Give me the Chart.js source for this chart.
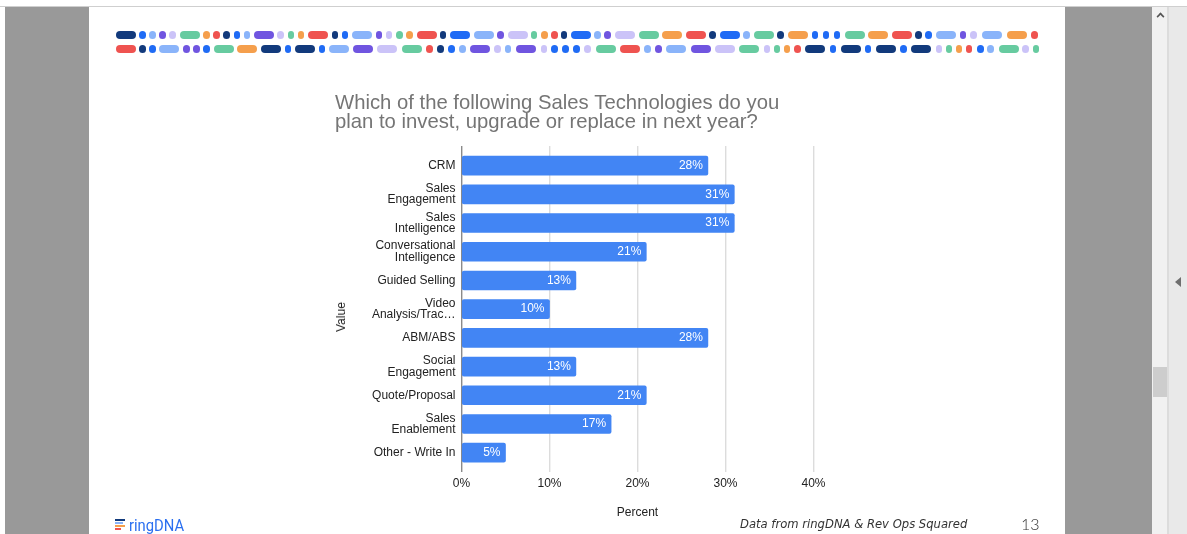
<!DOCTYPE html>
<html>
<head>
<meta charset="utf-8">
<script src="https://cdn.jsdelivr.net/npm/chart.js@4"></script>
<style>
  html, body { margin: 0; padding: 0; background: #fff; }
  #page { position: relative; width: 1187px; height: 534px; overflow: hidden; background: #fff; font-family: "Liberation Sans", Arial, sans-serif; }
  #page > div, #page > canvas { position: absolute; }
  #topline { left: 0; top: 6px; width: 1187px; height: 1px; background: #cfcfcf; }
  .gutter { top: 7px; height: 527px; background: #999; }
  #gl { left: 5px; width: 84px; }
  #gr { left: 1065px; width: 87px; }
  #track { left: 1152px; top: 7px; width: 15px; height: 527px; background: #f1f1f1; }
  #trackedge { left: 1167px; top: 7px; width: 2px; height: 527px; background: #dcdcdc; }
  #side { left: 1169px; top: 7px; width: 18px; height: 527px; background: #e9e9e9; }
  #thumb { left: 1153px; top: 367px; width: 14px; height: 30px; background: #cdcdcd; }
  #up { left: 1157px; top: 13px; width: 5px; height: 5px; border-left: 2px solid #555; border-top: 2px solid #555; transform: rotate(45deg) scale(.8); }
  #collapse { left: 1175px; top: 277px; width: 0; height: 0; border-top: 5px solid transparent; border-bottom: 5px solid transparent; border-right: 6px solid #6f6f6f; }
  .chip { height: 8px; border-radius: 4px; }
  .bar { left: 115px; height: 1.6px; }
  #chart { left: 0; top: 0; }
  #valueTitle { left: 341px; top: 317px; font-size: 12px; color: #222; transform: translate(-50%, -50%) rotate(-90deg); }
  #brand { left: 129px; top: 515px; font-family: Roboto, sans-serif; font-size: 17px; color: #2a6ff0; transform-origin: 0 50%; transform: scaleX(.87); white-space: nowrap; }
  #credit { left: 740px; top: 517px; font-family: "DejaVu Sans", sans-serif; font-style: italic; font-size: 11.6px; color: #333; white-space: nowrap; }
  #pageno { left: 1021px; top: 514px; font-family: Lato, sans-serif; font-weight: 300; font-size: 16px; color: #333; white-space: nowrap; }
</style>
</head>
<body>
<div id="page">
  <div id="topline"></div>
  <div id="gl" class="gutter"></div>
  <div id="gr" class="gutter"></div>
  <div id="track"></div>
  <div id="trackedge"></div>
  <div id="side"></div>
  <div id="thumb"></div>
  <div id="up"></div>
  <div id="collapse"></div>
  <canvas id="chart" width="1187" height="534"></canvas>
  <div id="valueTitle">Value</div>
  <div id="brand">ringDNA</div>
  <div id="credit">Data from ringDNA &amp; Rev Ops Squared</div>
  <div id="pageno">13</div>
</div>
<script>
// Chart content
const categories = [
  'CRM',
  ['Sales', 'Engagement'],
  ['Sales', 'Intelligence'],
  ['Conversational', 'Intelligence'],
  'Guided Selling',
  ['Video', 'Analysis/Trac\u2026'],
  'ABM/ABS',
  ['Social', 'Engagement'],
  'Quote/Proposal',
  ['Sales', 'Enablement'],
  'Other - Write In'
];
const percentValues = [28, 31, 31, 21, 13, 10, 28, 13, 21, 17, 5];
const chartTitle = ['Which of the following Sales Technologies do you', 'plan to invest, upgrade or replace in next year?'];
const xAxisTitle = 'Percent';

// Decorative header strips: a letter per chip (upper case = long pill, lower case = dot)
const stripColors = { n: '#123a7c', b: '#1f6bf5', l: '#8ab4fa', p: '#7055e0', i: '#cbc3f8', g: '#67cba0', o: '#f59f4c', r: '#ef5350' };
const stripOneKinds = 'NblpiGornblPigoRnbLpigoRnBLpIgornBlpIGORnBlGnObbbGORnbLpiLOr';
const stripOneCentres = [125.5,142.4,152.3,162.6,172.6,189.6,206.7,216.6,226.6,236.9,246.8,263.8,280.5,290.9,300.8,318.2,334.9,345.2,362.2,378.9,389.2,399.5,409.5,426.5,443.2,460.1,483.9,500.6,517.6,534,544.3,554.3,564,581.3,597.7,607.6,624.9,648.7,672,695.6,712.3,729.7,746.4,763.6,780.5,797.7,814.9,826.1,837,854.9,878.3,901.9,918.6,928.7,946.1,962.8,973.6,991.6,1016.7,1034.7];
const stripTwoKinds = 'RnbLppbGONbNbLPIGrnblPilPibbbiGRlpLPIGigorNbNbNbNigorblGig';
const stripTwoCentres = [125.5,142.4,152.3,169.3,186.4,196.3,206.3,224.4,247.4,271.1,288.2,305,321.9,338.5,363.3,387.4,412.3,429.4,440.5,451.6,462.3,480.3,497.5,508.2,525.8,544,554.7,565.7,576.3,587.7,605.7,629.9,647.5,658.4,676,700.7,725.4,749.4,767,777,787.2,797.7,815.3,832.9,850.5,868,886,903.6,921.2,938.8,948.9,959,969.2,980.4,990.5,1008.5,1025.7,1036.2];

// Logo stripes beside the brand name
const logoStripes = [['#123a7c', 519, 10], ['#8ab4fa', 522, 8], ['#f59f4c', 525, 10], ['#ef5350', 528, 6]];

const page = document.getElementById('page');
function addStrip(kinds, centres, middleY) {
  [...kinds].forEach((k, i) => {
    const long = k === k.toUpperCase();
    const w = long ? 20 : 6.6;
    const el = document.createElement('div');
    el.className = 'chip';
    el.style.cssText = `left:${centres[i] - w / 2}px;top:${middleY - 4}px;width:${w}px;background:${stripColors[k.toLowerCase()]}`;
    page.appendChild(el);
  });
}
addStrip(stripOneKinds, stripOneCentres, 34.5);
addStrip(stripTwoKinds, stripTwoCentres, 49);
logoStripes.forEach(([c, y, w]) => {
  const el = document.createElement('div');
  el.className = 'bar';
  el.style.cssText = `top:${y}px;width:${w}px;background:${c}`;
  page.appendChild(el);
});

// Writes each percentage inside the end of its bar
const barValueLabels = {
  id: 'barValueLabels',
  afterDatasetsDraw(chart) {
    const { ctx } = chart;
    ctx.save();
    ctx.font = '12px "Liberation Sans", Arial, sans-serif';
    ctx.fillStyle = '#ffffff';
    ctx.textAlign = 'right';
    ctx.textBaseline = 'middle';
    chart.getDatasetMeta(0).data.forEach((bar, i) => {
      ctx.fillText(percentValues[i] + '%', bar.x - 5, bar.y);
    });
    ctx.restore();
  }
};

new Chart(document.getElementById('chart'), {
  type: 'bar',
  data: {
    datasets: [{
      data: percentValues.map((v, i) => ({ x: v, y: i })),
      backgroundColor: '#4285f4',
      borderRadius: 2,
      borderSkipped: false,
      barThickness: 19
    }]
  },
  options: {
    indexAxis: 'y',
    responsive: false,
    animation: false,
    events: [],
    layout: { padding: { left: 335, right: 373.5, top: 93.5, bottom: 14.5 } },
    plugins: {
      legend: { display: false },
      tooltip: { enabled: false },
      title: {
        display: true,
        text: chartTitle,
        align: 'start',
        color: '#757575',
        font: { family: '"Liberation Sans", Arial, sans-serif', size: 20.3, weight: 'normal', lineHeight: 0.94 },
        padding: { top: 0, bottom: 14.3 }
      }
    },
    scales: {
      x: {
        type: 'linear',
        min: 0,
        max: 40,
        border: { display: false },
        grid: {
          drawTicks: false,
          lineWidth: 1.4,
          color: c => (c.tick && c.tick.value === 0 ? '#8a8a8a' : '#dcdcdc')
        },
        ticks: {
          stepSize: 10,
          padding: 5,
          color: '#222',
          font: { family: '"Liberation Sans", Arial, sans-serif', size: 12 },
          callback: v => v + '%'
        },
        title: {
          display: true,
          text: xAxisTitle,
          color: '#222',
          font: { family: '"Liberation Sans", Arial, sans-serif', size: 12 },
          padding: { top: 0, bottom: 0 }
        },
        afterFit(scale) { scale.height = 48; }
      },
      y: {
        type: 'linear',
        reverse: true,
        offset: false,
        min: -0.685,
        max: 10.655,
        border: { display: false },
        grid: { display: false, drawTicks: false },
        ticks: {
          stepSize: 1,
          includeBounds: false,
          autoSkip: false,
          maxTicksLimit: 30,
          padding: 6,
          color: '#222',
          font: { family: '"Liberation Sans", Arial, sans-serif', size: 12, lineHeight: 0.96 },
          callback: v => categories[v]
        },
        afterFit(scale) { scale.width = 126.5; }
      }
    }
  },
  plugins: [barValueLabels]
});
</script>
</body>
</html>
